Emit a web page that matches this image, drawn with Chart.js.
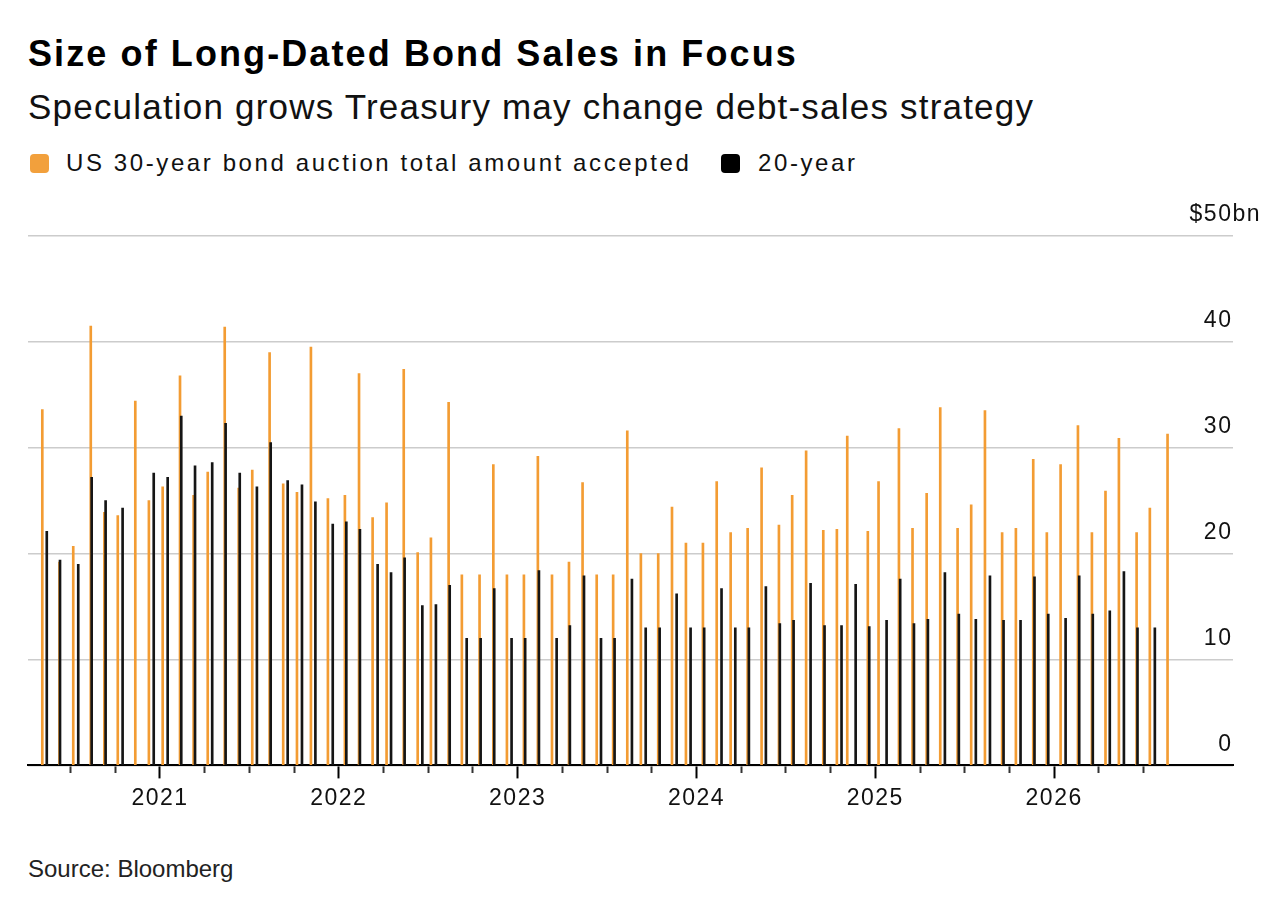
<!DOCTYPE html>
<html>
<head>
<meta charset="utf-8">
<script src="https://cdn.jsdelivr.net/npm/chart.js@4.4.1/dist/chart.umd.min.js"></script>
<style>
  html, body { margin: 0; padding: 0; background: #fff; }
  body { width: 1272px; height: 908px; position: relative; overflow: hidden;
         font-family: 'Liberation Sans', Arial, sans-serif; color: #000; }
  .t { position: absolute; white-space: nowrap; }
  #title { left: 28px; top: 36px; font-size: 36px; line-height: 36px; font-weight: bold; letter-spacing: 2.1px; }
  #subtitle { left: 28px; top: 89px; font-size: 35px; line-height: 35px; letter-spacing: 1.2px; color: #111; }
  .lg { top: 151px; font-size: 24px; line-height: 24px; letter-spacing: 2.6px; color: #111; }
  .sw { position: absolute; top: 154px; width: 19px; height: 19px; border-radius: 4px; }
  #source { left: 28px; top: 857px; font-size: 24px; line-height: 24px; color: #222; }
  #wrap { position: absolute; left: 0; top: 190px; width: 1289px; height: 650px; }
</style>
</head>
<body>
<div id="title" class="t">Size of Long-Dated Bond Sales in Focus</div>
<div id="subtitle" class="t">Speculation grows Treasury may change debt-sales strategy</div>
<div class="sw" style="left:30px;background:#f2a03c;"></div>
<div class="t lg" style="left:66px;">US 30-year bond auction total amount accepted</div>
<div class="sw" style="left:721px;background:#000;"></div>
<div class="t lg" style="left:758px;">20-year</div>
<div id="wrap"><canvas id="c"></canvas></div>
<div id="source" class="t">Source: Bloomberg</div>
<script>
// Auction dates (decimal years) and amounts accepted ($bn)
const times30 = [2020.342, 2020.438, 2020.515, 2020.613, 2020.689, 2020.764, 2020.862, 2020.938,
  2021.015, 2021.112, 2021.188, 2021.267, 2021.362, 2021.440, 2021.516, 2021.613, 2021.689, 2021.766, 2021.844, 2021.939,
  2022.034, 2022.113, 2022.189, 2022.267, 2022.363, 2022.441, 2022.515, 2022.614, 2022.688, 2022.787, 2022.864, 2022.940,
  2023.035, 2023.113, 2023.192, 2023.287, 2023.363, 2023.442, 2023.534, 2023.613, 2023.689, 2023.786, 2023.863, 2023.941,
  2024.036, 2024.113, 2024.191, 2024.286, 2024.364, 2024.461, 2024.535, 2024.613, 2024.709, 2024.785, 2024.843, 2024.958,
  2025.018, 2025.132, 2025.208, 2025.287, 2025.363, 2025.460, 2025.536, 2025.613, 2025.709, 2025.786, 2025.883, 2025.959,
  2026.036, 2026.133, 2026.211, 2026.287, 2026.362, 2026.461, 2026.535, 2026.634];
const values30 = [33.6, 19.2, 20.7, 41.5, 23.9, 23.6, 34.4, 25.0,
  26.3, 36.8, 25.5, 27.7, 41.4, 26.2, 27.9, 39.0, 26.6, 25.8, 39.5, 25.2,
  25.5, 37.0, 23.4, 24.8, 37.4, 20.1, 21.5, 34.3, 18.0, 18.0, 28.4, 18.0,
  18.0, 29.2, 18.0, 19.2, 26.7, 18.0, 18.0, 31.6, 20.0, 20.0, 24.4, 21.0,
  21.0, 26.8, 22.0, 22.4, 28.1, 22.7, 25.5, 29.7, 22.2, 22.3, 31.1, 22.1,
  26.8, 31.8, 22.4, 25.7, 33.8, 22.4, 24.6, 33.5, 22.0, 22.4, 28.9, 22.0,
  28.4, 32.1, 22.0, 25.9, 30.9, 22.0, 24.3, 31.3];
const times20 = [2020.367, 2020.441, 2020.543, 2020.618, 2020.696, 2020.791, 2020.965,
  2021.043, 2021.119, 2021.196, 2021.292, 2021.367, 2021.446, 2021.542, 2021.619, 2021.714, 2021.794, 2021.869, 2021.966,
  2022.042, 2022.118, 2022.217, 2022.292, 2022.368, 2022.467, 2022.543, 2022.620, 2022.715, 2022.793, 2022.869, 2022.966,
  2023.042, 2023.119, 2023.218, 2023.292, 2023.371, 2023.466, 2023.542, 2023.639, 2023.716, 2023.794, 2023.889, 2023.967,
  2024.043, 2024.140, 2024.217, 2024.293, 2024.388, 2024.466, 2024.543, 2024.638, 2024.716, 2024.811, 2024.890, 2024.966,
  2025.063, 2025.139, 2025.216, 2025.294, 2025.389, 2025.467, 2025.562, 2025.641, 2025.717, 2025.812, 2025.890, 2025.967,
  2026.064, 2026.140, 2026.216, 2026.311, 2026.390, 2026.466, 2026.563];
const values20 = [22.1, 19.4, 19.0, 27.2, 25.0, 24.3, 27.6,
  27.2, 33.0, 28.3, 28.6, 32.3, 27.6, 26.3, 30.5, 26.9, 26.5, 24.9, 22.8,
  23.0, 22.3, 19.0, 18.2, 19.6, 15.1, 15.2, 17.0, 12.0, 12.0, 16.7, 12.0,
  12.0, 18.4, 12.0, 13.2, 17.9, 12.0, 12.0, 17.6, 13.0, 13.0, 16.2, 13.0,
  13.0, 16.7, 13.0, 13.0, 16.9, 13.4, 13.7, 17.2, 13.2, 13.2, 17.1, 13.1,
  13.7, 17.6, 13.4, 13.8, 18.2, 14.3, 13.8, 17.9, 13.7, 13.7, 17.8, 14.3,
  13.9, 17.9, 14.3, 14.6, 18.3, 13.0, 13.0];
const yearTicks = [2021, 2022, 2023, 2024, 2025, 2026];
const quarterTicks = [2020.5, 2020.75, 2021, 2021.25, 2021.5, 2021.75, 2022, 2022.25, 2022.5, 2022.75,
  2023, 2023.25, 2023.5, 2023.75, 2024, 2024.25, 2024.5, 2024.75, 2025, 2025.25, 2025.5, 2025.75,
  2026, 2026.25, 2026.5];
const yTickValues = [0, 10, 20, 30, 40, 50];
const yTickLabels = ['0', '10', '20', '30', '40', '$50bn'];

const FONT = "'Liberation Sans', Arial, sans-serif";
const spacing = {
  id: 'spacing',
  beforeDraw(c) { c.ctx.letterSpacing = '1.5px'; },
  afterDraw(c) { c.ctx.letterSpacing = '0px'; }
};
const isMajor = (ctx) => ctx.tick && yearTicks.includes(ctx.tick.value);

new Chart(document.getElementById('c'), {
  type: 'bar',
  data: {
    datasets: [
      { label: 'US 30-year bond auction total amount accepted',
        data: times30.map((t, i) => ({ x: t, y: values30[i] })),
        backgroundColor: '#f39c33', barThickness: 2, grouped: false, order: 1 },
      { label: '20-year',
        data: times20.map((t, i) => ({ x: t, y: values20[i] })),
        backgroundColor: '#151515', barThickness: 2, grouped: false, order: 0 }
    ]
  },
  options: {
    responsive: true,
    maintainAspectRatio: false,
    animation: false,
    layout: { padding: { left: 28, right: 0, top: 46, bottom: 22 } },
    plugins: { legend: { display: false }, tooltip: { enabled: false } },
    scales: {
      x: {
        type: 'linear', min: 2020.262, max: 2027, offset: false,
        afterBuildTicks: (s) => { s.ticks = quarterTicks.map(v => ({ value: v })); },
        ticks: { autoSkip: false, maxRotation: 0, padding: 6, color: '#111',
                 font: { family: FONT, size: 23 },
                 callback: (v) => yearTicks.includes(v) ? String(v) : '' },
        grid: { display: true, offset: false, drawOnChartArea: false, drawTicks: true, tickLength: 13,
                tickWidth: 2,
                tickColor: (ctx) => isMajor(ctx) ? '#000' : '#333',
                tickBorderDash: (ctx) => isMajor(ctx) ? [] : [7, 40] },
        border: { display: true, color: '#000', width: 2 }
      },
      y: {
        position: 'right', min: 0, max: 50,
        afterBuildTicks: (s) => { s.ticks = yTickValues.map(v => ({ value: v })); },
        ticks: { mirror: true, padding: 28, labelOffset: -21, color: '#111',
                 font: { family: FONT, size: 23 },
                 callback: (v) => { const i = yTickValues.indexOf(v); return yTickLabels[i] + (v === 50 ? '' : '\u2007\u2007'); } },
        grid: { color: '#cccccc', lineWidth: 1.5, drawTicks: false },
        border: { display: false }
      }
    }
  },
  plugins: [spacing]
});
</script>
</body>
</html>
